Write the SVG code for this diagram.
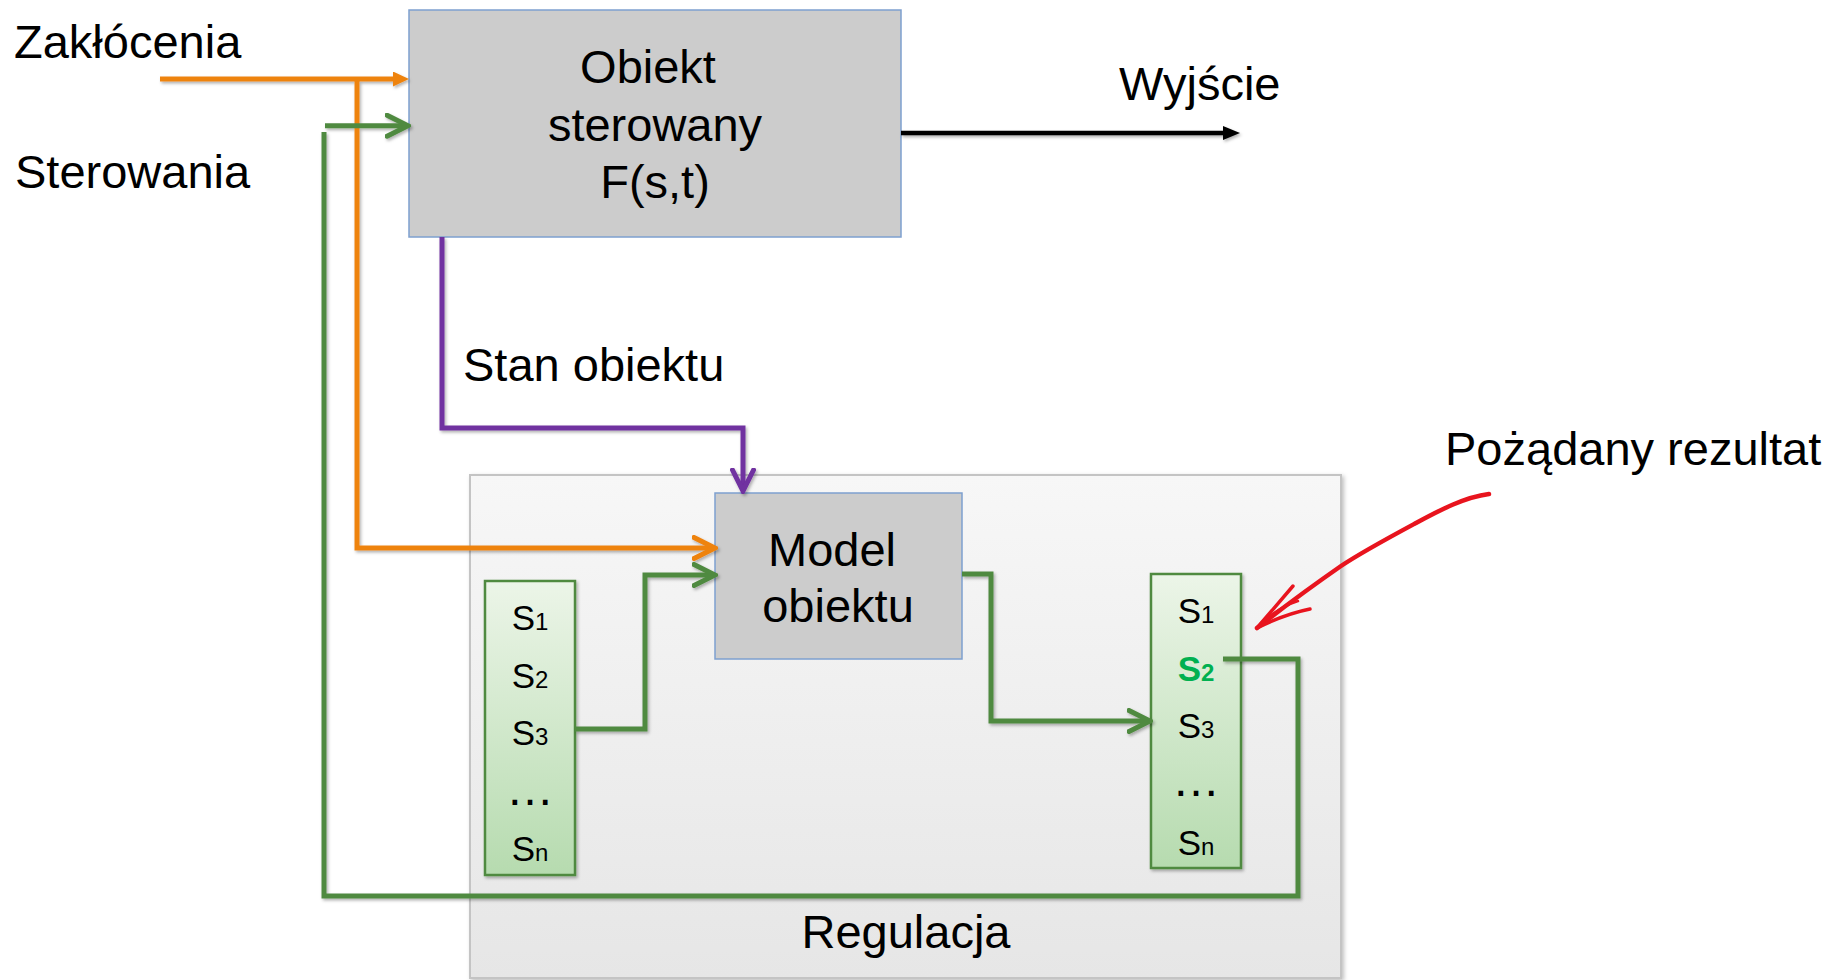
<svg xmlns="http://www.w3.org/2000/svg" width="1843" height="980" viewBox="0 0 1843 980">
  <defs>
    <linearGradient id="regFill" x1="0" y1="0" x2="0" y2="1">
      <stop offset="0" stop-color="#F7F7F7"/>
      <stop offset="1" stop-color="#E6E6E6"/>
    </linearGradient>
    <linearGradient id="stateFill" x1="0" y1="0" x2="0" y2="1">
      <stop offset="0" stop-color="#ECF5E8"/>
      <stop offset="1" stop-color="#B6DBAF"/>
    </linearGradient>
    <filter id="shadow" x="-10%" y="-10%" width="130%" height="130%">
      <feDropShadow dx="1.5" dy="2" stdDeviation="1.5" flood-color="#000" flood-opacity="0.3"/>
    </filter>
    <filter id="boxShadow" x="-5%" y="-5%" width="115%" height="115%">
      <feDropShadow dx="2" dy="2" stdDeviation="2" flood-color="#000" flood-opacity="0.25"/>
    </filter>
    <marker id="orangeTri" viewBox="0 0 16 15" refX="4" refY="7.5" markerWidth="16" markerHeight="15" markerUnits="userSpaceOnUse" orient="auto">
      <path d="M0,0 L16,7.5 L0,15 Z" fill="#EE8310"/>
    </marker>
    <marker id="blackTri" viewBox="0 0 17 14" refX="4" refY="7" markerWidth="17" markerHeight="14" markerUnits="userSpaceOnUse" orient="auto">
      <path d="M0,0 L17,7 L0,14 Z" fill="#000"/>
    </marker>
    <marker id="greenChev" viewBox="0 0 26 26" refX="21" refY="13" markerWidth="26" markerHeight="26" markerUnits="userSpaceOnUse" orient="auto">
      <path d="M2,2.5 L23,13 L2,23.5" fill="none" stroke="#508A40" stroke-width="5" stroke-linecap="round"/>
    </marker>
    <marker id="orangeChev" viewBox="0 0 26 26" refX="21" refY="13" markerWidth="26" markerHeight="26" markerUnits="userSpaceOnUse" orient="auto">
      <path d="M2,2.5 L23,13 L2,23.5" fill="none" stroke="#EE8310" stroke-width="5" stroke-linecap="round"/>
    </marker>
    <marker id="purpleChev" viewBox="0 0 26 26" refX="21" refY="13" markerWidth="26" markerHeight="26" markerUnits="userSpaceOnUse" orient="auto">
      <path d="M2,2.5 L23,13 L2,23.5" fill="none" stroke="#7030A0" stroke-width="5" stroke-linecap="round"/>
    </marker>
    <style>
      .lbl { font-family: "Liberation Sans", Arial, sans-serif; font-size: 47px; fill: #000; }
      .mid { text-anchor: middle; }
      .st { font-family: "Liberation Sans", Arial, sans-serif; font-size: 35px; fill: #000; text-anchor: middle; }
      .sub { font-size: 24px; }
      .dots { font-size: 48px; }
      .hl { fill: #00B050; font-weight: bold; }
      .box { fill: #CCCCCC; stroke: #7EA0CF; stroke-width: 1.5; }
      .col { fill: url(#stateFill); stroke: #508A40; stroke-width: 2.5; }
      .wire { fill: none; stroke-width: 5; stroke-linejoin: miter; }
      .orange { stroke: #EE8310; }
      .green { stroke: #508A40; }
      .purple { stroke: #7030A0; }
      .black { stroke: #000; stroke-width: 4.5; }
    </style>
  </defs>

  <rect width="1843" height="980" fill="#FFFFFF"/>

  <!-- regulation frame -->
  <g id="regulacja">
    <rect x="470" y="475" width="871" height="503" fill="url(#regFill)" stroke="#C4C4C4" stroke-width="2" filter="url(#boxShadow)"/>
    <text class="lbl mid" x="906" y="948">Regulacja</text>
  </g>

  <!-- plant -->
  <g id="obiekt">
    <rect class="box" x="409" y="10" width="492" height="227"/>
    <text class="lbl mid" x="648" y="83">Obiekt</text>
    <text class="lbl mid" x="655" y="141">sterowany</text>
    <text class="lbl mid" x="655" y="198">F(s,t)</text>
  </g>

  <!-- plant model -->
  <g id="model">
    <rect class="box" x="715" y="493" width="247" height="166"/>
    <text class="lbl mid" x="832" y="566">Model</text>
    <text class="lbl mid" x="838" y="622">obiektu</text>
  </g>

  <!-- candidate states -->
  <g id="stany-lewe">
    <rect class="col" x="485" y="581" width="90" height="294" filter="url(#shadow)"/>
    <text class="st" x="530" y="630">S<tspan class="sub">1</tspan></text>
    <text class="st" x="530" y="688">S<tspan class="sub">2</tspan></text>
    <text class="st" x="530" y="745">S<tspan class="sub">3</tspan></text>
    <text class="st dots" x="530" y="805">…</text>
    <text class="st" x="530" y="861">S<tspan class="sub">n</tspan></text>
  </g>

  <!-- predicted states -->
  <g id="stany-prawe">
    <rect class="col" x="1151" y="574" width="90" height="294" filter="url(#shadow)"/>
    <text class="st" x="1196" y="623">S<tspan class="sub">1</tspan></text>
    <text class="st hl" x="1196" y="681">S<tspan class="sub">2</tspan></text>
    <text class="st" x="1196" y="738">S<tspan class="sub">3</tspan></text>
    <text class="st dots" x="1196" y="796">…</text>
    <text class="st" x="1196" y="855">S<tspan class="sub">n</tspan></text>
  </g>

  <!-- free labels -->
  <g id="etykiety">
    <text class="lbl" x="14" y="58">Zakłócenia</text>
    <text class="lbl" x="15" y="188">Sterowania</text>
    <text class="lbl" x="1119" y="100">Wyjście</text>
    <text class="lbl" x="463" y="381">Stan obiektu</text>
    <text class="lbl" x="1445" y="465">Pożądany rezultat</text>
  </g>

  <!-- connectors -->
  <g id="polaczenia" filter="url(#shadow)">
    <path class="wire orange" d="M160,79 H397" marker-end="url(#orangeTri)"/>
    <path class="wire orange" d="M357,79 V548 H713" marker-end="url(#orangeChev)"/>
    <path class="wire green" d="M325,125.7 H406" marker-end="url(#greenChev)"/>
    <path class="wire green" d="M1223,659 H1298 V896 H324 V132"/>
    <path class="wire purple" d="M442,237 V428 H743 V489" marker-end="url(#purpleChev)"/>
    <path class="wire green" d="M575,729 H645 V575 H713" marker-end="url(#greenChev)"/>
    <path class="wire green" d="M962,574 H991 V721 H1148" marker-end="url(#greenChev)"/>
    <path class="wire black" d="M901,133 H1227" marker-end="url(#blackTri)"/>
  </g>

  <!-- hand-drawn pointer -->
  <g id="wskaznik" fill="none" stroke="#E8141E" stroke-linecap="round" stroke-linejoin="round">
    <path d="M1489,494 C1465,497 1440,510 1416,523 C1390,537 1362,552 1341,566 C1318,582 1290,602 1257,628" stroke-width="4.5"/>
    <path d="M1257,628 L1293,586" stroke-width="3.5"/>
    <path d="M1257,628 C1277,618 1295,612 1310,609" stroke-width="3.5"/>
    <path d="M1261,623 C1274,612 1285,605 1298,601" stroke-width="2.5"/>
  </g>
</svg>
